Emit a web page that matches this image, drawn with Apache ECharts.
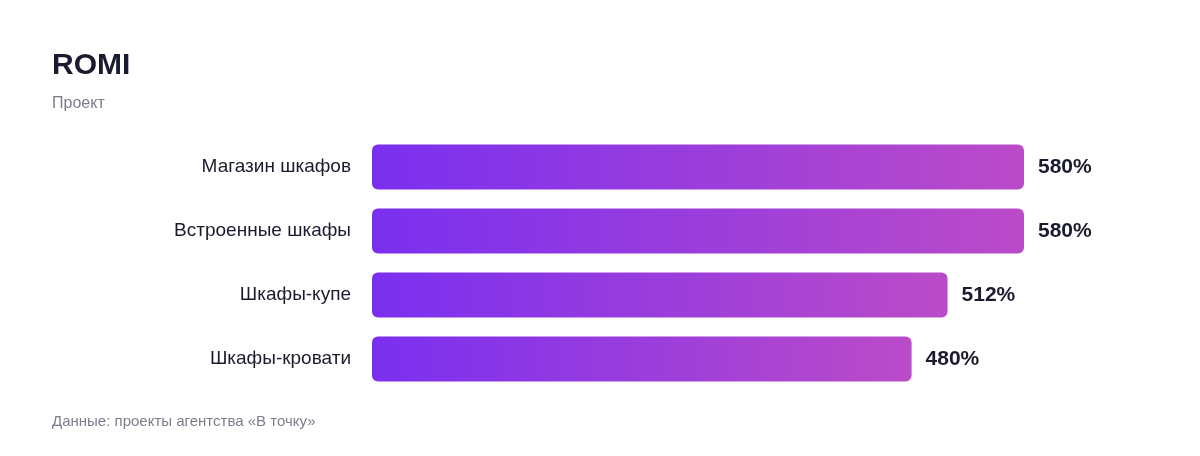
<!DOCTYPE html>
<html>
<head>
<meta charset="utf-8">
<script src="https://cdn.jsdelivr.net/npm/echarts@6/dist/echarts.min.js"></script>
<style>
html,body{margin:0;padding:0;background:#fff;}
#chart{width:1200px;height:456px;}
</style>
</head>
<body>
<div id="chart"></div>
<script>
const categories = ['Магазин шкафов', 'Встроенные шкафы', 'Шкафы-купе', 'Шкафы-кровати'];
const romiValues = [580, 580, 512, 480];
const titleText = 'ROMI';
const subtitleText = 'Проект';
const footerText = 'Данные: проекты агентства «В точку»';

const chart = echarts.init(document.getElementById('chart'));
const font = '"Liberation Sans", Arial, sans-serif';
chart.setOption({
  backgroundColor: '#ffffff',
  animation: false,
  textStyle: { fontFamily: font },
  title: [
    { text: titleText, left: 52, top: 51, padding: 0, textStyle: { fontSize: 30, fontWeight: 'bold', color: '#1b1b2f', fontFamily: font } },
    { text: subtitleText, left: 52, top: 96, padding: 0, textStyle: { fontSize: 16, fontWeight: 'normal', color: '#7c7c8e', fontFamily: font } },
    { text: footerText, left: 52, top: 414, padding: 0, textStyle: { fontSize: 15, fontWeight: 'normal', color: '#7c7c8e', fontFamily: font } }
  ],
  grid: { left: 372, right: 176, top: 135, height: 256, containLabel: false },
  xAxis: {
    type: 'value', min: 0, max: 580,
    show: false
  },
  yAxis: {
    type: 'category', data: categories, inverse: true,
    axisLine: { show: false }, axisTick: { show: false }, splitLine: { show: false },
    axisLabel: { color: '#1b1b2f', fontSize: 19, margin: 21, fontFamily: font, padding: [3, 0, 0, 0] }
  },
  series: [{
    type: 'bar',
    data: romiValues,
    barWidth: 45,
    itemStyle: {
      borderRadius: 6,
      color: new echarts.graphic.LinearGradient(0, 0, 1, 0, [
        { offset: 0, color: '#7a2ff0' },
        { offset: 1, color: '#bb4bc8' }
      ])
    },
    label: {
      show: true, position: 'right', distance: 14,
      formatter: p => p.value + '%', padding: [3, 0, 0, 0],
      fontSize: 21, fontWeight: 'bold', color: '#1b1b2f', fontFamily: font
    }
  }]
});
</script>
</body>
</html>
